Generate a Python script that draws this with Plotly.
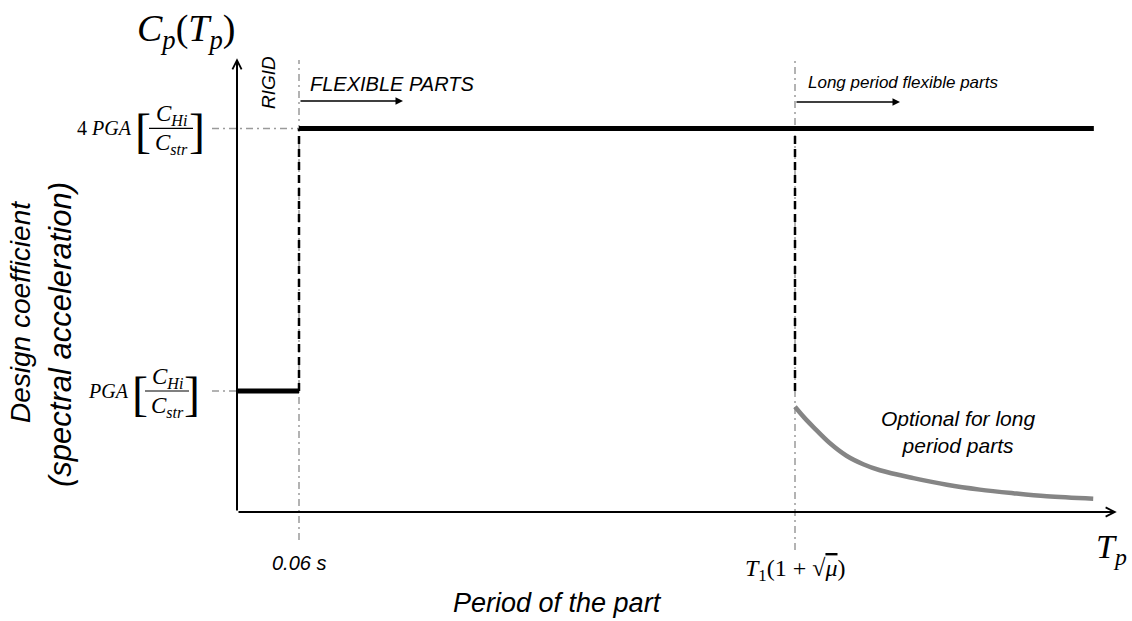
import plotly.graph_objects as go

# ---------------- data (schematic units) ----------------
rigid_T = [0.0, 1.0]            # rigid parts plateau
rigid_C = [1.0, 1.0]
flex_T = [1.0, 13.82]           # flexible parts plateau
flex_C = [3.17, 3.17]
optional_T = [9.0, 9.15, 9.30, 9.56, 9.83, 10.10, 10.37, 10.91, 11.45, 11.98, 12.52, 13.06, 13.81]
optional_C = [0.87, 0.78, 0.70, 0.57, 0.465, 0.395, 0.345, 0.28, 0.225, 0.185, 0.155, 0.13, 0.11]
limit_T = [1.0, 9.0]            # 0.06 s and T1(1+sqrt(mu))
limit_labels = ["<i>0.06 s</i>",
                "<i>T</i><sub>1</sub>(1 + √<span style='text-decoration:overline'><i>μ</i></span>)"]
level_C = [1.0, 3.17]           # PGA and 4 PGA levels
axis_T_max = 14.19
axis_C_max = 3.75

# ---------------- layout constants ----------------
W, H = 1132, 621
OX, OY = 237, 512               # pixel position of the origin
SX, SY = 62.0, 121.0            # pixels per unit


def dx(px):
    return (px - OX) / SX


def dy(py):
    return (OY - py) / SY


SANS = "Liberation Sans"
SERIF = "Liberation Serif"
GRID = "#9a9a9a"

fig = go.Figure()

# dash-dot guide lines
guide_bottom = [dy(540), dy(550)]
for T, yb in zip(limit_T, guide_bottom):
    fig.add_trace(go.Scatter(x=[T, T], y=[yb, dy(60)], mode="lines",
                             line=dict(color=GRID, width=1.5, dash="7px,4px,2px,4px"),
                             hoverinfo="skip", showlegend=False))
for C, xe in zip(level_C, [0.0, limit_T[0]]):
    fig.add_trace(go.Scatter(x=[dx(212), xe], y=[C, C], mode="lines",
                             line=dict(color=GRID, width=1.5, dash="7px,4px,2px,4px"),
                             hoverinfo="skip", showlegend=False))

# dashed black verticals
for T in limit_T:
    fig.add_trace(go.Scatter(x=[T, T], y=[level_C[0], level_C[1]], mode="lines",
                             line=dict(color="black", width=2.5, dash="8px,5px"),
                             hoverinfo="skip", showlegend=False))

# spectrum
fig.add_trace(go.Scatter(x=rigid_T, y=rigid_C, mode="lines",
                         line=dict(color="black", width=5), showlegend=False))
fig.add_trace(go.Scatter(x=flex_T, y=flex_C, mode="lines",
                         line=dict(color="black", width=5), showlegend=False))
fig.add_trace(go.Scatter(x=optional_T, y=optional_C, mode="lines",
                         line=dict(color="#858585", width=4.5, shape="spline", smoothing=1.0),
                         showlegend=False))

ann = []


def arrow(x0, y0, x1, y1, head, width, size=1.0):
    ann.append(dict(x=x1, y=y1, ax=x0, ay=y0, xref="x", yref="y", axref="x", ayref="y",
                    text="", showarrow=True, arrowhead=head, arrowwidth=width,
                    arrowsize=size, arrowcolor="black", standoff=0, startstandoff=0))


def text(px, py, s, size, family=SANS, xanchor="center", angle=0, color="black"):
    ann.append(dict(x=dx(px), y=dy(py), xref="x", yref="y", text=s, showarrow=False,
                    xanchor=xanchor, yanchor="middle", textangle=angle,
                    font=dict(family=family, size=size, color=color)))


# axes
arrow(0, 0, 0, axis_C_max, 5, 2, 0.9)
arrow(0, 0, axis_T_max, 0, 5, 2, 0.9)

# region arrows
arrow(limit_T[0], dy(101), dx(403), dy(101), 2, 1.5)
arrow(limit_T[1], dy(102), dx(900), dy(102), 2, 1.5)

# titles
text(186, 31, "<i>C</i><sub><i>p</i></sub>(<i>T</i><sub><i>p</i></sub>)", 38, SERIF)
text(1111, 549, "<i>T</i><sub><i>p</i></sub>", 34, SERIF)
text(557, 603, "<i>Period of the part</i>", 27)
text(20, 312, "<i>Design coefficient</i>", 28, angle=-90)
text(60, 335, "<i>(spectral acceleration)</i>", 31, angle=-90)

# region labels
text(268, 83, "<i>RIGID</i>", 19, angle=-90)
text(308, 84, "<i>FLEXIBLE PARTS</i>", 20, xanchor="left")
text(806, 82, "<i>Long period flexible parts</i>", 17, xanchor="left")
text(958, 432, "<i>Optional for long<br>period parts</i>", 21)

# x tick labels
ann.append(dict(x=limit_T[0], y=dy(563), xref="x", yref="y", text=limit_labels[0],
                showarrow=False, font=dict(family=SANS, size=20, color="black")))
ann.append(dict(x=limit_T[1], y=dy(570), xref="x", yref="y", text=limit_labels[1],
                showarrow=False, font=dict(family=SERIF, size=24, color="black")))

# y level labels with bracketed fraction
NUM = "<i>C</i><sub><i>Hi</i></sub>"
DEN = "<i>C</i><sub><i>str</i></sub>"
shapes = []
for C, lab, xr, xl, xrb, xc in [(level_C[1], "4 <i>PGA</i>", 134, 143, 197, 171),
                                (level_C[0], "<i>PGA</i>", 131, 140, 192, 167)]:
    py = OY - C * SY
    text(xr, py, lab, 20, SERIF, xanchor="right")
    text(xl, py + 2, "[", 48, SERIF)
    text(xrb, py + 2, "]", 48, SERIF)
    text(xc, py - 13, NUM, 23, SERIF)
    text(xc, py + 16, DEN, 23, SERIF)
    shapes.append(dict(type="line", xref="x", yref="y", x0=dx(xc - 22), x1=dx(xc + 22),
                       y0=C, y1=C, line=dict(color="black", width=1.2)))

fig.update_layout(
    width=W, height=H,
    margin=dict(l=0, r=0, t=0, b=0),
    paper_bgcolor="white", plot_bgcolor="white",
    xaxis=dict(range=[-OX / SX, (W - OX) / SX], visible=False, fixedrange=True),
    yaxis=dict(range=[-(H - OY) / SY, OY / SY], visible=False, fixedrange=True),
    annotations=ann, shapes=shapes, showlegend=False,
)

fig.write_html("out.html", config={"displayModeBar": False},
               post_script="document.body.style.margin='0';")
